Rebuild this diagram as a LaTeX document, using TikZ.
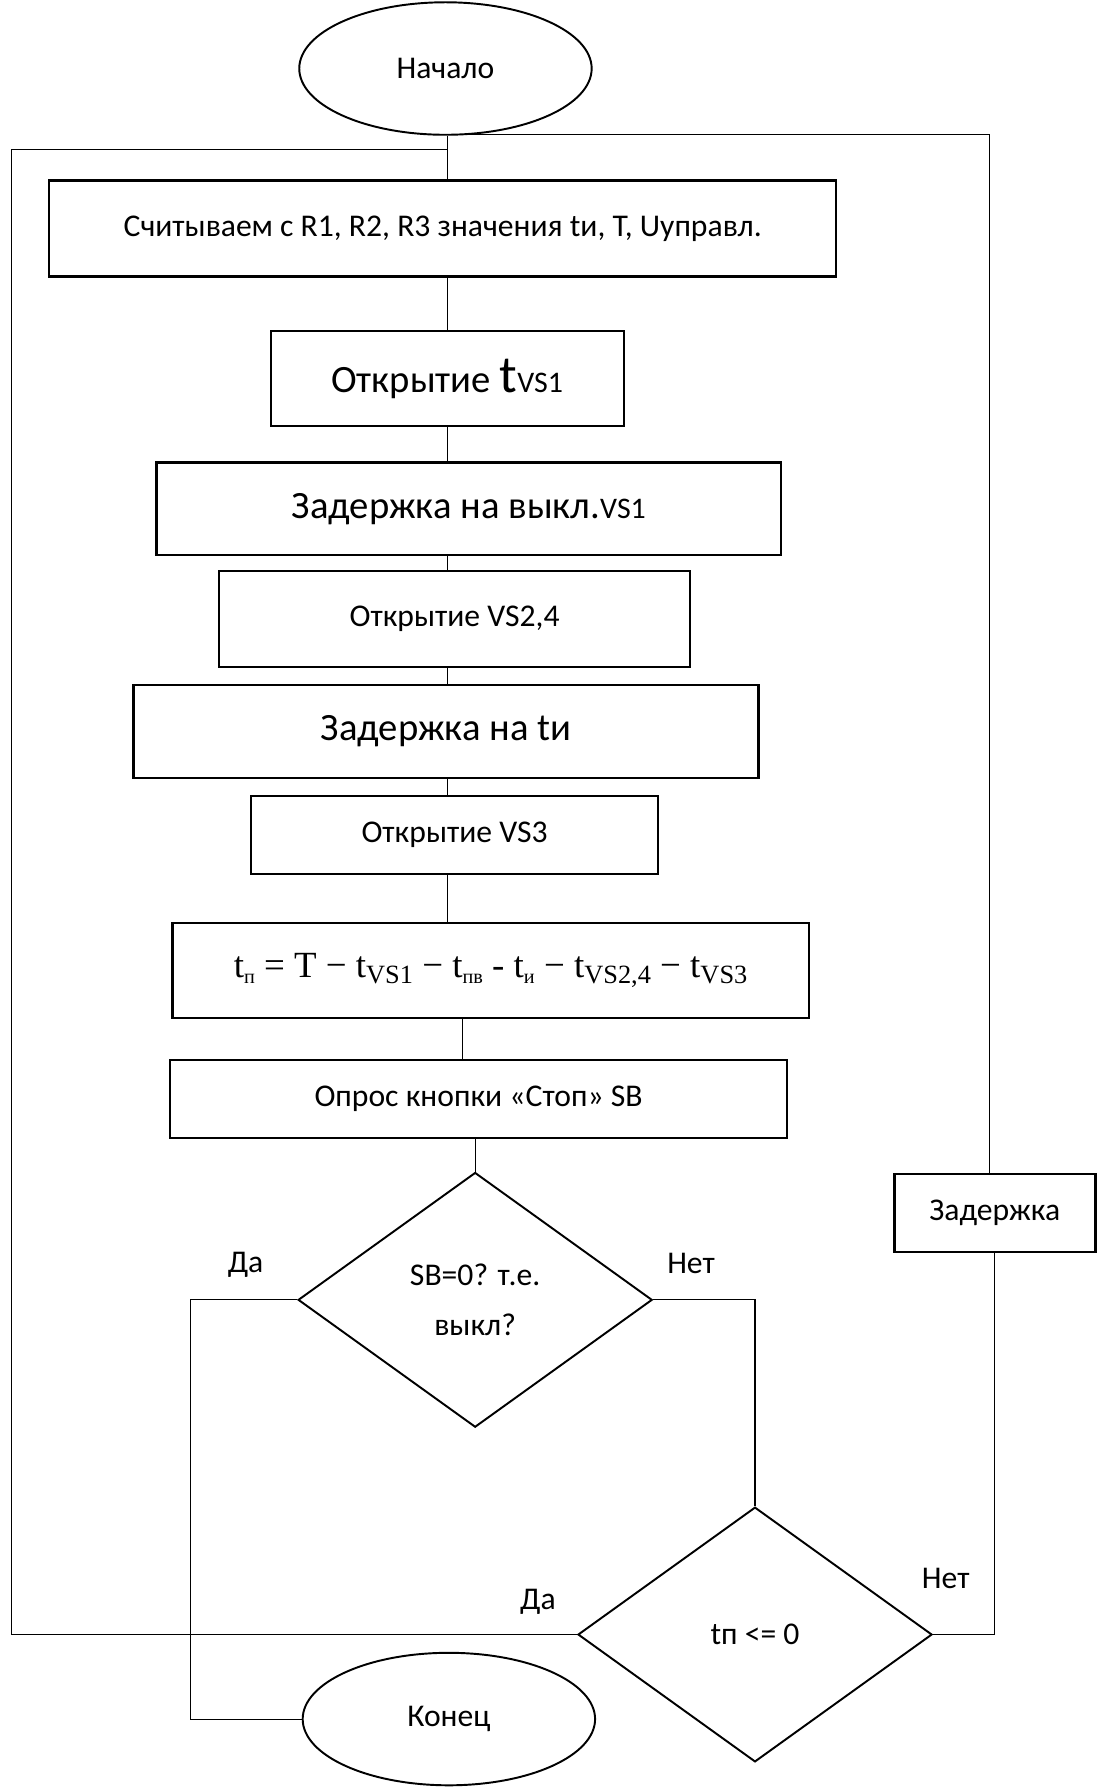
\documentclass[tikz,border=0pt]{standalone}
\usepackage{fontspec}
\setmainfont{Carlito}
\newfontfamily\timesr{Liberation Serif}
\usetikzlibrary{shapes.geometric,positioning,calc}
\newcommand{\pxl}{0.02284cm}
\newcommand{\razm}[1]{\fontsize{#1}{1.25\dimexpr#1pt\relax}\selectfont}
\newcommand{\nizh}[2]{\raisebox{-0.35ex}{\razm{#1}#2}}
\tikzset{
  blok/.style={draw,line width=1.3pt,inner sep=0pt,align=center},
  oval/.style={ellipse,draw,line width=1.1pt,inner sep=0pt,
    minimum width=256*\pxl,minimum height=116*\pxl,font=\razm{18}},
  romb/.style={diamond,draw,line width=1.1pt,inner sep=0pt,align=center,
    minimum width=310*\pxl,minimum height=223*\pxl,font=\razm{18}},
  lin/.style={line width=0.6pt},
  podp/.style={font=\razm{18}},
  melk/.style={font=\razm{18}},
  krup/.style={font=\razm{22}},
}

\begin{document}
\begin{tikzpicture}[x=\pxl,y=-\pxl]
  \useasboundingbox (0,0) rectangle (964,1568);
  \coordinate (os) at (392,0);
  \coordinate (os2) at (405,0);
  \coordinate (lv) at (10,131);
  \coordinate (pv) at (866,118);
  \coordinate (kx) at (167,0);

  \node[oval] (nach) at (390,60) {Начало};
  \node[blok,podp,minimum width=689*\pxl,minimum height=84*\pxl] (b1) at (387.5,200)
    {Считываем с R1, R2, R3 значения tи, T, Uуправл.};
  \node[blok,krup,minimum width=309*\pxl,minimum height=83*\pxl] (b2) at (391.5,331.5)
    {Открытие {\razm{30}t}{\razm{17}VS1}};
  \node[blok,krup,minimum width=547*\pxl,minimum height=81*\pxl] (b3) at (410.5,445.5)
    {Задержка на выкл.{\razm{17}VS1}};
  \node[blok,melk,minimum width=412*\pxl,minimum height=84*\pxl] (b4) at (398,542)
    {Открытие VS2,4};
  \node[blok,krup,minimum width=547*\pxl,minimum height=81*\pxl] (b5) at (390.5,640.5)
    {Задержка на tи};
  \node[blok,melk,minimum width=356*\pxl,minimum height=68*\pxl] (b6) at (398,731)
    {Открытие VS3};
  \node[blok,minimum width=557*\pxl,minimum height=83*\pxl] (b7) at (429.5,849.5)
    {\timesr\razm{21}t\nizh{11.5}{п} = T − t\nizh{15}{VS1} − t\nizh{11.5}{пв} - t\nizh{11.5}{и}
     − t\nizh{15}{VS2,4} − t\nizh{15}{VS3}};
  \node[blok,melk,minimum width=540*\pxl,minimum height=68*\pxl] (b8) at (419,962)
    {Опрос кнопки «Стоп» SB};
  \node[romb] (r1) at (416,1138) {SB=0? т.е.\\[6pt] выкл?};
  \node[romb] (r2) at (661,1431) {tп <= 0};
  \node[blok,podp,minimum width=176*\pxl,minimum height=68*\pxl] (zad) at (871,1062)
    {Задержка};
  \node[oval] (kon) at (393,1505) {Конец};

  \node[podp] (da1) at (215,1107) {Да};
  \node[podp] (net1) at (605,1106) {Нет};
  \node[podp] (da2) at (471,1402) {Да};
  \node[podp] (net2) at (828,1382) {Нет};

  \draw[lin] (nach.south -| os) -- (b1.north -| os);
  \draw[lin] (b1.south -| os) -- (b2.north -| os);
  \draw[lin] (b2.south -| os) -- (b3.north -| os);
  \draw[lin] (b3.south -| os) -- (b4.north -| os);
  \draw[lin] (b4.south -| os) -- (b5.north -| os);
  \draw[lin] (b5.south -| os) -- (b6.north -| os);
  \draw[lin] (b6.south -| os) -- (b7.north -| os);
  \draw[lin] (b7.south -| os2) -- (b8.north -| os2);
  \draw[lin] (r1.north |- b8.south) -- (r1.north);
  \draw[lin] (r1.west) -- (r1.west -| kx) |- (kon.west);
  \draw[lin] (r1.east) -| (r2.north);
  \draw[lin] (r2.west) -| (lv) -- (lv -| os);
  \draw[lin] (r2.east) -| (zad.south);
  \draw[lin] (zad.north -| pv) -- (pv) -- (pv -| os);
\end{tikzpicture}
\end{document}
